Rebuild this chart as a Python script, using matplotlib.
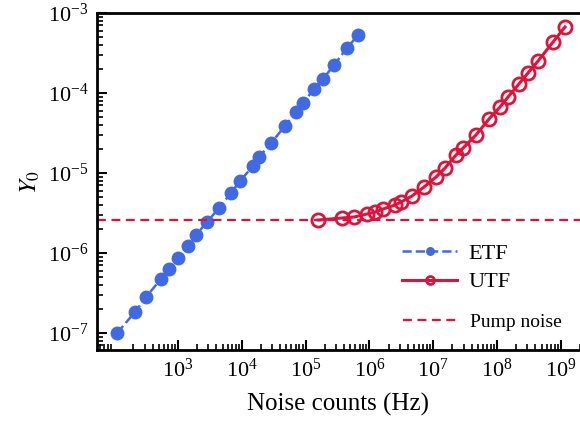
import numpy as np
import matplotlib
matplotlib.use("Agg")
import matplotlib.pyplot as plt

plt.rcParams['font.family'] = ['Liberation Serif', 'DejaVu Serif']
plt.rcParams['mathtext.fontset'] = 'stix'

# ETF (blue, dashed, filled circles)
etf_x = [111, 212, 315, 541, 723, 1000, 1435, 1915, 2848, 4391, 6771, 9372,
         14980, 18610, 28680, 47550, 70710, 91050, 135400, 187400, 278700,
         445600, 662700]
etf_y = [1.0e-7, 1.83e-7, 2.82e-7, 4.73e-7, 6.31e-7, 8.66e-7, 1.22e-6, 1.68e-6,
         2.44e-6, 3.65e-6, 5.62e-6, 7.94e-6, 1.22e-5, 1.58e-5, 2.37e-5, 3.87e-5,
         5.79e-5, 7.50e-5, 1.12e-4, 1.50e-4, 2.24e-4, 3.65e-4, 5.31e-4]

# UTF (red, solid, open circles)
utf_x = [1.565e5, 3.72e5, 5.736e5, 9.171e5, 1.224e6, 1.634e6, 2.519e6, 3.128e6,
         4.652e6, 7.175e6, 1.106e7, 1.531e7, 2.278e7, 2.933e7, 4.686e7, 7.492e7,
         1.114e8, 1.487e8, 2.212e8, 3.061e8, 4.391e8, 7.547e8, 1.163e9]
utf_y = [2.585e-6, 2.74e-6, 2.82e-6, 3.07e-6, 3.25e-6, 3.55e-6, 3.98e-6, 4.34e-6,
         5.16e-6, 6.68e-6, 8.91e-6, 1.155e-5, 1.68e-5, 2.05e-5, 2.99e-5, 4.73e-5,
         6.68e-5, 8.91e-5, 1.30e-4, 1.78e-4, 2.51e-4, 4.34e-4, 6.68e-4]

pump_level = 2.585e-6

blue = '#4169E1'
red = '#DC143C'

fig = plt.figure(figsize=(5.8, 4.28), dpi=100)
ax = fig.add_axes([0.1672, 0.1822, 0.8328, 0.7874])

l1, = ax.plot(etf_x, etf_y, '--o', color=blue, lw=1.8, ms=9,
              markeredgecolor=blue, label='ETF')
l2, = ax.plot(utf_x, utf_y, '-o', color=red, lw=2.2, ms=9.5,
              markerfacecolor='none', markeredgewidth=2.0, label='UTF')
l3 = ax.axhline(pump_level, color=red, ls='--', lw=1.6, dashes=(4, 2.5),
                label='Pump noise')

ax.set_xscale('log')
ax.set_yscale('log')
ax.set_xlim(53.7, 2.0e9)
ax.set_ylim(6.13e-8, 1e-3)

ax.set_xticks([1e3, 1e4, 1e5, 1e6, 1e7, 1e8, 1e9])
ax.set_yticks([1e-7, 1e-6, 1e-5, 1e-4, 1e-3])
ax.xaxis.set_minor_locator(matplotlib.ticker.LogLocator(base=10, subs=np.arange(2, 10), numticks=20))
ax.yaxis.set_minor_locator(matplotlib.ticker.LogLocator(base=10, subs=np.arange(2, 10), numticks=20))
ax.xaxis.set_minor_formatter(matplotlib.ticker.NullFormatter())
ax.yaxis.set_minor_formatter(matplotlib.ticker.NullFormatter())

ax.tick_params(which='major', direction='in', length=7, width=1.5, labelsize=16, pad=6)
ax.tick_params(which='minor', direction='in', length=4, width=1.2)
ax.tick_params(top=False, right=False)
for s in ['left', 'bottom', 'top']:
    ax.spines[s].set_linewidth(2)
ax.spines['right'].set_visible(False)

ax.set_xlabel('Noise counts (Hz)', fontsize=18, labelpad=8)
ax.set_ylabel('$Y_0$', fontsize=18, labelpad=4)

leg1 = ax.legend(handles=[l1, l2], loc='center left', bbox_to_anchor=(0.631, 0.2435),
                 frameon=False, fontsize=16, handlelength=2.5, handletextpad=0.5,
                 labelspacing=0.35, borderaxespad=0, borderpad=0, markerscale=0.6)
ax.add_artist(leg1)
ax.legend(handles=[l3], loc='center left', bbox_to_anchor=(0.633, 0.083),
          frameon=False, fontsize=14, handlelength=2.8, handletextpad=0.65,
          borderaxespad=0, borderpad=0)

fig.savefig('out.png', dpi=100)
